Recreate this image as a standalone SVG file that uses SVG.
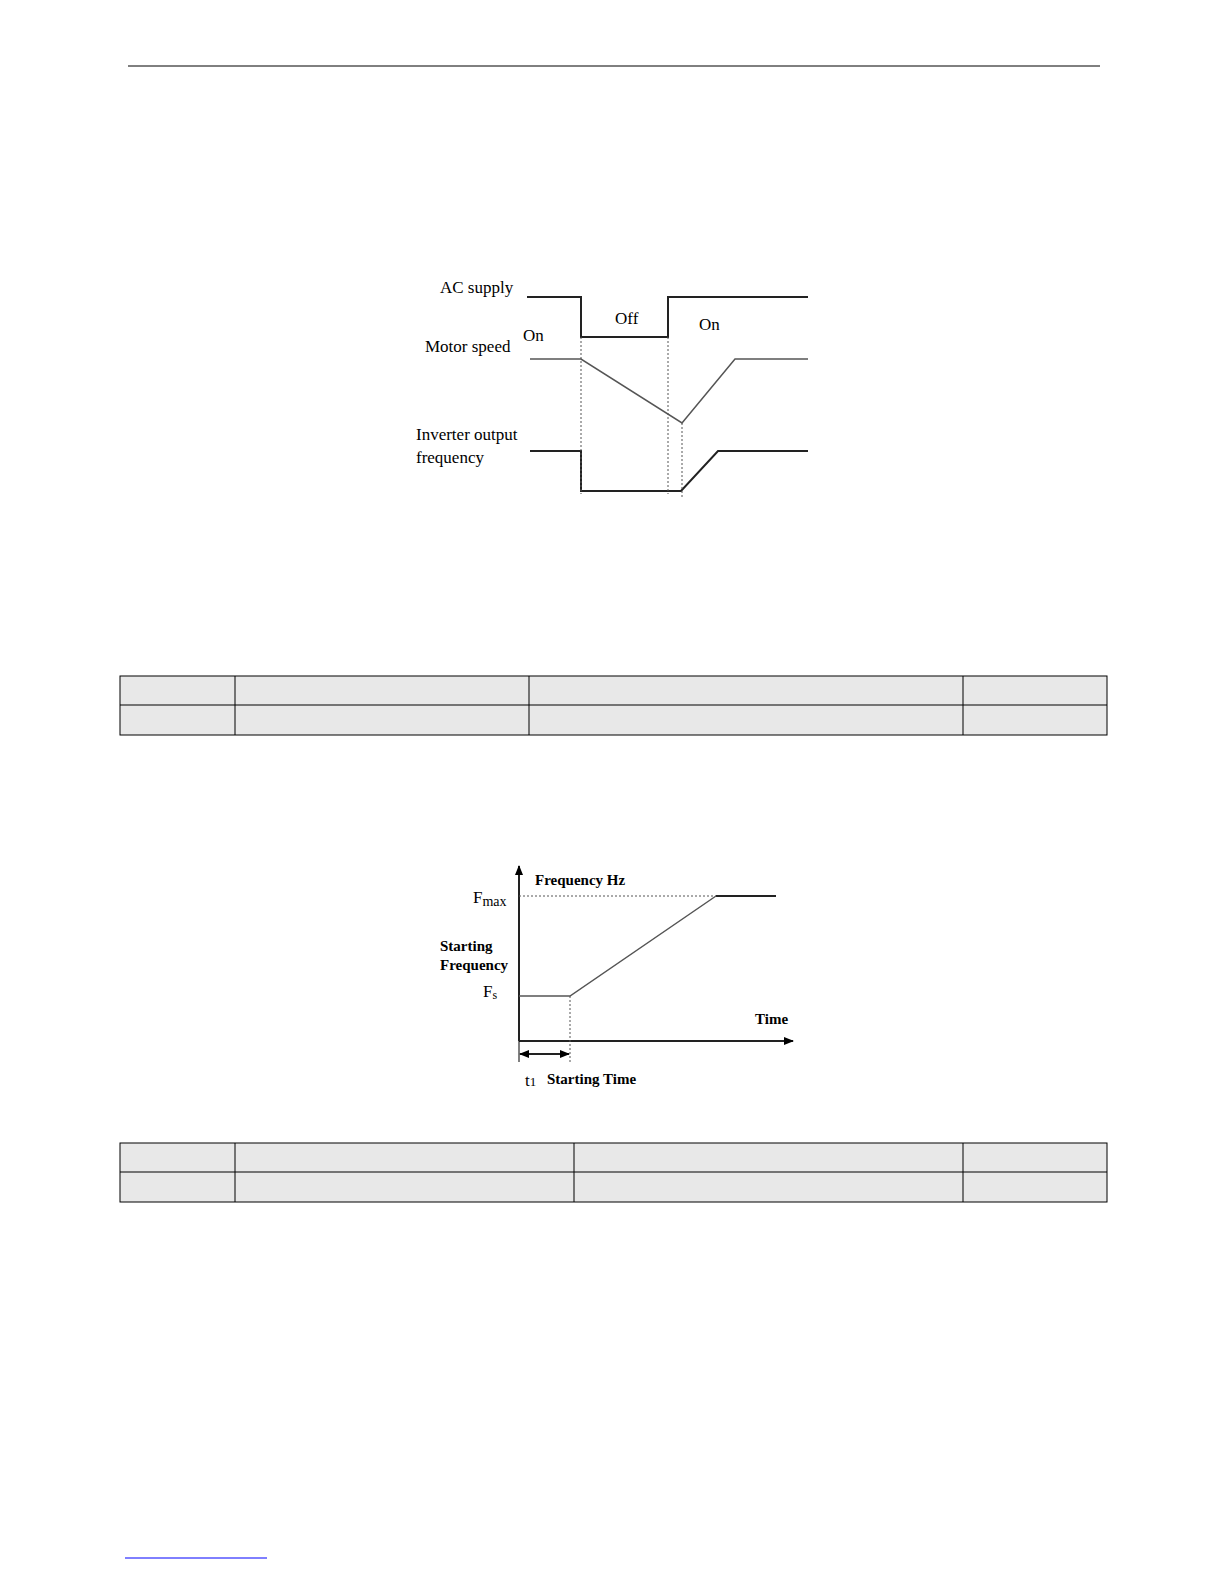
<svg xmlns="http://www.w3.org/2000/svg" width="1224" height="1584" viewBox="0 0 1224 1584">
<defs>
<style>
.t{font-family:"Liberation Serif",serif;font-size:17px;fill:#000}
.b{font-weight:bold;font-size:15px}
.ln{fill:none;stroke:#222;stroke-width:2}
.g{fill:none;stroke:#555;stroke-width:1.5}
.d{fill:none;stroke:#555;stroke-width:1;stroke-dasharray:2,2}
.tb{fill:#e8e8e8;stroke:#000;stroke-width:1}
.c{stroke:#000;stroke-width:1}
</style>
<marker id="ar" markerWidth="10" markerHeight="10" refX="9" refY="5" orient="auto-start-reverse" markerUnits="userSpaceOnUse"><path d="M0,1 L10,5 L0,9 Z" fill="#000"/></marker>
</defs>
<rect width="1224" height="1584" fill="#fff"/>
<line x1="128" y1="66" x2="1100" y2="66" stroke="#000" stroke-width="1"/>
<g id="chart1">
<polyline class="ln" points="527,297 581,297 581,337 668,337 668,297 808,297"/>
<polyline class="g" points="530,359 581,359 682,423 735,359 808,359"/>
<polyline class="ln" points="530,451 581,451 581,491 681,491 718,451 808,451"/>
<line class="d" x1="581" y1="337" x2="581" y2="494"/>
<line class="d" x1="668" y1="337" x2="668" y2="494"/>
<line class="d" x1="682" y1="423" x2="682" y2="497"/>
<text class="t" x="440" y="293">AC supply</text>
<text class="t" x="615" y="324">Off</text>
<text class="t" x="699" y="330">On</text>
<text class="t" x="523" y="341">On</text>
<text class="t" x="425" y="352">Motor speed</text>
<text class="t" x="416" y="440">Inverter output</text>
<text class="t" x="416" y="463">frequency</text>
</g>
<g id="table1">
<rect class="tb" x="120" y="676" width="987" height="59"/>
<line class="c" x1="120" y1="705" x2="1107" y2="705"/>
<line class="c" x1="235" y1="676" x2="235" y2="735"/>
<line class="c" x1="529" y1="676" x2="529" y2="735"/>
<line class="c" x1="963" y1="676" x2="963" y2="735"/>
</g>
<g id="chart2">
<line class="ln" x1="519" y1="1041" x2="519" y2="866" marker-end="url(#ar)"/>
<line class="ln" x1="519" y1="1041" x2="793" y2="1041" marker-end="url(#ar)"/>
<line class="d" x1="519" y1="896" x2="716" y2="896"/>
<line class="ln" x1="716" y1="896" x2="776" y2="896"/>
<polyline class="g" points="519,996 570,996 716,896"/>
<line class="d" x1="570" y1="996" x2="570" y2="1062"/>
<line class="c" x1="519" y1="1041" x2="519" y2="1062"/>
<line class="ln" x1="520" y1="1054" x2="569" y2="1054" marker-end="url(#ar)" marker-start="url(#ar)"/>
<text class="t b" x="535" y="885">Frequency Hz</text>
<text class="t" x="473" y="903" font-size="20">F<tspan font-size="14" dy="3">max</tspan></text>
<text class="t b" x="440" y="951">Starting</text>
<text class="t b" x="440" y="970">Frequency</text>
<text class="t" x="483" y="997" font-size="20">F<tspan font-size="12" dy="2">s</tspan></text>
<text class="t b" x="755" y="1024">Time</text>
<text class="t" x="525" y="1086" font-size="22">t<tspan font-size="13">1</tspan></text>
<text class="t b" x="547" y="1084">Starting Time</text>
</g>
<g id="table2">
<rect class="tb" x="120" y="1143" width="987" height="59"/>
<line class="c" x1="120" y1="1172" x2="1107" y2="1172"/>
<line class="c" x1="235" y1="1143" x2="235" y2="1202"/>
<line class="c" x1="574" y1="1143" x2="574" y2="1202"/>
<line class="c" x1="963" y1="1143" x2="963" y2="1202"/>
</g>
<line x1="125" y1="1558" x2="267" y2="1558" stroke="#00f" stroke-width="1"/>
</svg>
